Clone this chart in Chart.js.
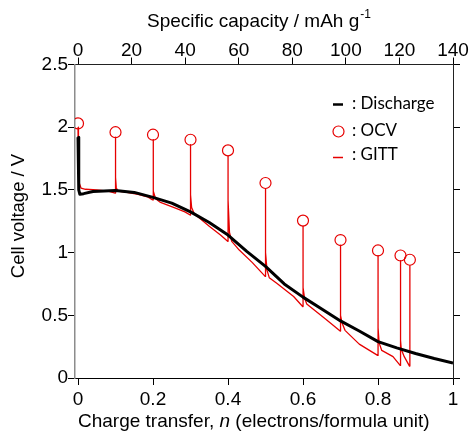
<!DOCTYPE html>
<html>
<head>
<meta charset="utf-8">
<script src="https://cdn.jsdelivr.net/npm/chart.js@4"></script>
<style>
  body { margin: 0; background: #fff; }
  #caixa { width: 469px; height: 435px; }
</style>
</head>
<body>
<div id="caixa"><canvas id="grafico" width="469" height="435"></canvas></div>
<script>
// curva de descarga (preta)
const descargaN = [0, 0.002, 0.005, 0.015, 0.04, 0.1, 0.15, 0.2, 0.25, 0.3, 0.35, 0.4, 0.45, 0.5, 0.55, 0.6, 0.65, 0.7, 0.75, 0.8, 0.85, 0.9, 0.95, 1.0];
const descargaV = [1.92, 1.50, 1.465, 1.47, 1.487, 1.495, 1.48, 1.44, 1.395, 1.325, 1.24, 1.14, 1.01, 0.89, 0.75, 0.645, 0.55, 0.455, 0.375, 0.29, 0.24, 0.195, 0.155, 0.12];

// pontos OCV (circulos)
const ocvN = [0, 0.1, 0.2, 0.3, 0.4, 0.5, 0.6, 0.7, 0.8, 0.86, 0.885];
const ocvV = [2.03, 1.96, 1.94, 1.90, 1.815, 1.555, 1.255, 1.10, 1.017, 0.977, 0.943];

// curva GITT (vermelha)
const gittN = [
  0, 0.0005, 0.002, 0.004, 0.008, 0.02, 0.05, 0.08, 0.099,
  0.1, 0.1, 0.1003, 0.102, 0.106, 0.13, 0.16, 0.185, 0.199,
  0.2, 0.2, 0.2003, 0.202, 0.207, 0.22, 0.26, 0.285, 0.299,
  0.3, 0.3, 0.3003, 0.303, 0.31, 0.35, 0.38, 0.399,
  0.4, 0.4, 0.4003, 0.404, 0.41, 0.43, 0.465, 0.499,
  0.5, 0.5, 0.5003, 0.504, 0.51, 0.53, 0.575, 0.599,
  0.6, 0.6, 0.6003, 0.604, 0.61, 0.66, 0.699,
  0.7, 0.7, 0.7003, 0.704, 0.712, 0.75, 0.799,
  0.8, 0.8, 0.8003, 0.803, 0.81, 0.84, 0.859,
  0.86, 0.86, 0.8603, 0.862, 0.87, 0.884,
  0.885, 0.885
];
const gittV = [
  2.00, 1.76, 1.62, 1.55, 1.515, 1.505, 1.50, 1.49, 1.475,
  1.475, 1.92, 1.60, 1.52, 1.49, 1.48, 1.465, 1.445, 1.42,
  1.42, 1.90, 1.59, 1.49, 1.43, 1.40, 1.355, 1.325, 1.30,
  1.30, 1.86, 1.46, 1.36, 1.31, 1.21, 1.14, 1.09,
  1.09, 1.77, 1.42, 1.16, 1.09, 1.02, 0.92, 0.81,
  0.81, 1.51, 1.00, 0.86, 0.80, 0.755, 0.65, 0.57,
  0.57, 1.21, 0.72, 0.64, 0.59, 0.47, 0.375,
  0.375, 1.06, 0.50, 0.44, 0.38, 0.27, 0.18,
  0.18, 0.975, 0.40, 0.28, 0.22, 0.17, 0.10,
  0.10, 0.935, 0.30, 0.23, 0.17, 0.095,
  0.095, 0.90
];

// ticks dos eixos
const ticksN = [0, 0.2, 0.4, 0.6, 0.8, 1];
const ticksCap = [0, 20, 40, 60, 80, 100, 120, 140];
const ticksV = [0, 0.5, 1, 1.5, 2, 2.5];

const pares = (xs, ys) => xs.map((x, i) => ({ x: x, y: ys[i] }));

const fonteTick = { family: '"Liberation Sans", Arial, sans-serif', size: 19 };
const vermelho = '#e60000';

// titulos dos eixos e legenda desenhados a mao
const textos = {
  id: 'textos',
  afterDraw(chart) {
    const ctx = chart.ctx;
    ctx.save();
    ctx.fillStyle = '#000';
    ctx.textBaseline = 'middle';
    ctx.textAlign = 'left';

    // titulo de cima
    ctx.font = '19px "Liberation Sans", Arial';
    let t = 'Specific capacity / mAh g';
    let x = 147;
    ctx.fillText(t, x, 22);
    x += ctx.measureText(t).width;
    ctx.font = '12px "Liberation Sans", Arial';
    ctx.fillText('-1', x + 1, 15);

    // titulo de baixo (com n em italico)
    x = 78;
    ctx.font = '19px "Liberation Sans", Arial';
    t = 'Charge transfer, ';
    ctx.fillText(t, x, 422);
    x += ctx.measureText(t).width;
    ctx.font = 'italic 19px "Liberation Sans", Arial';
    ctx.fillText('n', x, 422);
    x += ctx.measureText('n').width;
    ctx.font = '19px "Liberation Sans", Arial';
    ctx.fillText(' (electrons/formula unit)', x, 422);

    // titulo do eixo y
    ctx.save();
    ctx.translate(19, 216);
    ctx.rotate(-Math.PI / 2);
    ctx.textAlign = 'center';
    ctx.font = '18.5px "Liberation Sans", Arial';
    ctx.fillText('Cell voltage / V', 0, 0);
    ctx.restore();

    // legenda
    ctx.font = '17px Lato, "Open Sans", sans-serif';
    ctx.strokeStyle = '#000';
    ctx.lineWidth = 2.5;
    ctx.beginPath(); ctx.moveTo(333, 104.5); ctx.lineTo(343, 104.5); ctx.stroke();
    ctx.fillText(': Discharge', 352, 104);

    ctx.strokeStyle = vermelho;
    ctx.lineWidth = 1.2;
    ctx.beginPath(); ctx.arc(338.5, 131.5, 5.5, 0, Math.PI * 2); ctx.stroke();
    ctx.fillText(': OCV', 352, 131);

    ctx.lineWidth = 1.5;
    ctx.beginPath(); ctx.moveTo(333, 157.5); ctx.lineTo(343, 157.5); ctx.stroke();
    ctx.fillText(': GITT', 352, 155);
    ctx.restore();
  }
};

const grade = { drawOnChartArea: false, drawTicks: true, tickLength: 7, color: '#000', tickWidth: 1 };

new Chart(document.getElementById('grafico'), {
  type: 'scatter',
  data: {
    datasets: [
      { label: 'Discharge', data: pares(descargaN, descargaV), showLine: true, borderColor: '#000', borderWidth: 3, pointRadius: 0, borderJoinStyle: 'round', order: 0, xAxisID: 'x', yAxisID: 'y' },
      { label: 'OCV', data: pares(ocvN, ocvV), showLine: false, pointRadius: 5.5, pointStyle: 'circle', borderColor: vermelho, backgroundColor: 'rgba(0,0,0,0)', pointBorderWidth: 1.2, order: 1, xAxisID: 'x', yAxisID: 'y' },
      { label: 'GITT', data: pares(gittN, gittV), showLine: true, borderColor: vermelho, borderWidth: 1.3, pointRadius: 0, borderJoinStyle: 'round', order: 2, xAxisID: 'x', yAxisID: 'y' }
    ]
  },
  options: {
    responsive: false,
    animation: false,
    layout: { padding: 0 },
    plugins: { legend: { display: false }, tooltip: { enabled: false } },
    scales: {
      x: {
        type: 'linear', position: 'bottom', min: -0.008, max: 1,
        afterBuildTicks: s => { s.ticks = ticksN.map(v => ({ value: v })); },
        afterFit: s => { s.height = 57; },
        ticks: { font: fonteTick, color: '#000', padding: 3, maxRotation: 0, callback: v => String(v) },
        grid: grade,
        border: { color: '#000', width: 1 }
      },
      x2: {
        type: 'linear', position: 'top', min: -1.12, max: 140,
        afterBuildTicks: s => { s.ticks = ticksCap.map(v => ({ value: v })); },
        afterFit: s => { s.height = 64.5; },
        ticks: { font: fonteTick, color: '#000', padding: -5, maxRotation: 0, callback: v => String(v) },
        grid: grade,
        border: { color: '#222', width: 1 }
      },
      y: {
        type: 'linear', position: 'left', min: 0, max: 2.5,
        afterBuildTicks: s => { s.ticks = ticksV.map(v => ({ value: v })); },
        afterFit: s => { s.width = 75; },
        ticks: { font: fonteTick, color: '#000', padding: 0, callback: v => String(v) },
        grid: grade,
        border: { color: '#8c8c8c', width: 1.5 }
      },
      y2: {
        type: 'linear', position: 'right', min: 0, max: 2.5,
        afterBuildTicks: s => { s.ticks = ticksV.map(v => ({ value: v })); },
        afterFit: s => { s.width = 16; },
        ticks: { display: false },
        grid: grade,
        border: { color: '#222', width: 1 }
      }
    }
  },
  plugins: [textos]
});
</script>
</body>
</html>
